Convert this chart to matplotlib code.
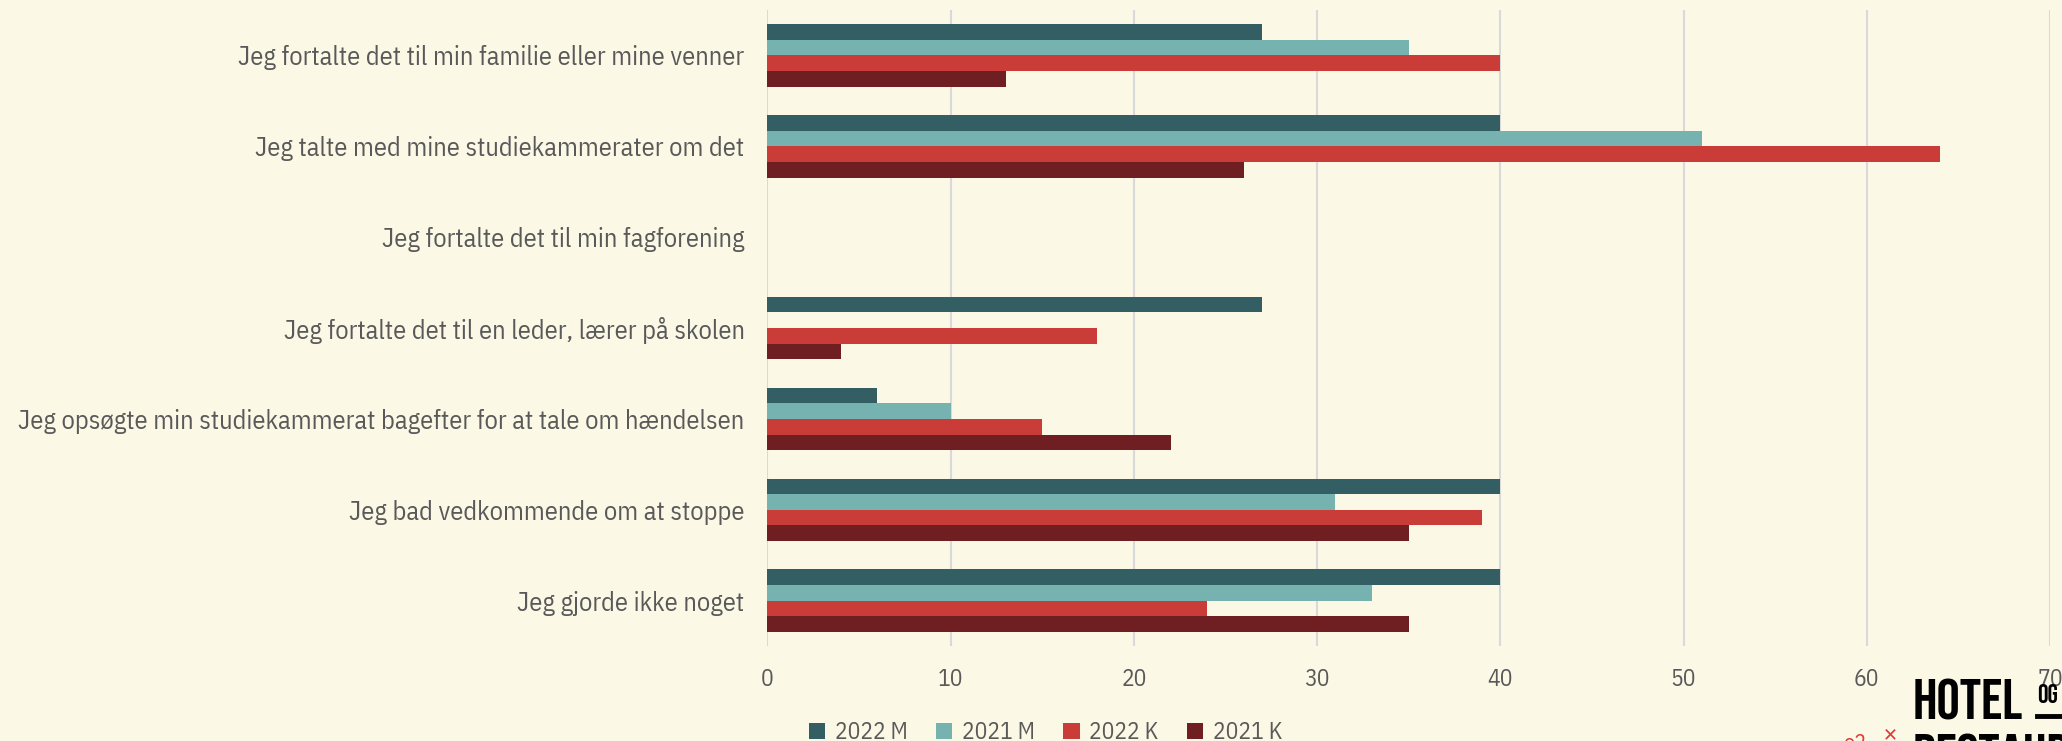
import matplotlib.pyplot as plt
import numpy as np

# Data
kategorier = [
    "Jeg fortalte det til min familie eller mine venner",
    "Jeg talte med mine studiekammerater om det",
    "Jeg fortalte det til min fagforening",
    "Jeg fortalte det til en leder, lærer på skolen",
    "Jeg opsøgte min studiekammerat bagefter for at tale om hændelsen",
    "Jeg bad vedkommende om at stoppe",
    "Jeg gjorde ikke noget",
]
serier = ["2022 M", "2021 M", "2022 K", "2021 K"]
m_2022 = [27, 40, 0, 27, 6, 40, 40]
m_2021 = [35, 51, 0, 0, 10, 31, 33]
k_2022 = [40, 64, 0, 18, 15, 39, 24]
k_2021 = [13, 26, 0, 4, 22, 35, 35]
x_ticks = [0, 10, 20, 30, 40, 50, 60, 70]

farver = ["#335E63", "#76B3B0", "#C93C37", "#6F1E21"]
bg = "#FBF8E6"
tekst = "#595959"

plt.rcParams['font.family'] = ['IBM Plex Sans Condensed', 'Fira Sans Condensed', 'DejaVu Sans']

fig = plt.figure(figsize=(20.62, 7.41), dpi=100, facecolor=bg)
ax = fig.add_axes([0.3722, 0.128, 0.622, 0.8585])
ax.set_facecolor(bg)

y = np.arange(len(kategorier))
h = 0.172
for i, (vals, navn) in enumerate(zip([m_2022, m_2021, k_2022, k_2021], serier)):
    ax.barh(y + (i - 1.5) * h, vals, height=h, color=farver[i], label=navn, zorder=3)

ax.set_ylim(len(kategorier) - 0.5, -0.5)
ax.set_xlim(0, 70)
ax.set_xticks(x_ticks)
ax.set_yticks(y)
ax.set_yticklabels(kategorier, fontsize=19)
ax.tick_params(axis='both', length=0, colors=tekst)
ax.tick_params(axis='x', labelsize=17, pad=16)
ax.tick_params(axis='y', pad=16.5)
ax.grid(axis='x', color="#D9D9D9", linewidth=1.5, zorder=0)
for s in ax.spines.values():
    s.set_visible(False)

# legend at the bottom (cut off at the edge, as in the original)
fig.legend(loc='center', bbox_to_anchor=(0.507, 0.011), ncol=4, frameon=False,
           fontsize=17, handlelength=0.7, handleheight=0.7, handletextpad=0.4,
           columnspacing=1.2, labelcolor=tekst)

# logo bits bottom right
logo_font = ['Bebas Neue', 'Anton', 'Oswald', 'Fira Sans Extra Condensed', 'DejaVu Sans']
fig.text(1913 / 2062, 1 - 720 / 741, "HOTEL", fontsize=42, fontweight='bold',
         family=logo_font, color='black', ha='left', va='baseline')
fig.text(2037 / 2062, 1 - 703 / 741, "OG", fontsize=19, fontweight='bold',
         family=logo_font, color='black', ha='left', va='baseline')
fig.add_artist(plt.Line2D([2037 / 2062, 1.0], [1 - 716 / 741, 1 - 716 / 741],
                          color='black', linewidth=3.5))
fig.text(1913 / 2062, 1 - 774 / 741, "RESTAURANT", fontsize=42, fontweight='bold',
         family=logo_font, color='black', ha='left', va='baseline')
fig.text(1843 / 2062, 1 - 750 / 741, "o2", fontsize=16, color='#E03C3C',
         ha='left', va='baseline')
fig.text(1890 / 2062, 1 - 742 / 741, "×", fontsize=20, color='#E03C3C',
         ha='center', va='baseline')

plt.savefig('out.png', dpi=100, facecolor=bg)
